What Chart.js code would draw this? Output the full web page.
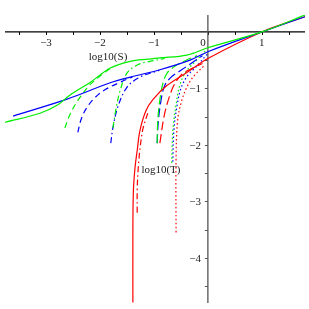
<!DOCTYPE html>
<html><head><meta charset="utf-8">
<script src="https://cdn.jsdelivr.net/npm/chart.js@4/dist/chart.umd.min.js"></script>
<style>html,body{margin:0;padding:0;background:#fff;}#wrap{width:309px;height:309px;}</style>
</head><body><div id="wrap"><canvas id="c" width="309" height="309"></canvas></div>
<script>
// ---- data (log10 S, log10 T) ----
const greenSolidX = [-3.76,-3.11,-2.78,-2.56,-2.19,-1.81,-1.44,-1.1,-0.89,-0.39,0,1,1.8];
const greenSolidY = [-1.6,-1.44,-1.29,-1.12,-0.9,-0.64,-0.52,-0.48,-0.46,-0.41,-0.28,0,0.3];
const blueSolidX = [-3.61,-2.61,-1.81,-1.44,-0.89,-0.33,0,1,1.8];
const blueSolidY = [-1.49,-1.19,-0.9,-0.8,-0.67,-0.5,-0.35,0,0.27];
const redSolidX = [-1.39,-1.39,-1.38,-1.35,-1.31,-1.26,-1.15,-1.02,-0.76,-0.39,0,1,1.8];
const redSolidY = [-4.79,-3.5,-2.8,-2.4,-2.1,-1.75,-1.4,-1.2,-0.95,-0.72,-0.47,0,0.27];

const greenDashX = [-2.65,-2.55,-2.4,-2.2,-2.0,-1.8];
const greenDashY = [-1.7,-1.45,-1.2,-0.95,-0.78,-0.64];
const blueDashX = [-2.41,-2.35,-2.25,-2.1,-1.9,-1.6,-1.4];
const blueDashY = [-1.78,-1.55,-1.35,-1.17,-1.02,-0.88,-0.8];

const greenDashDotX = [-1.76,-1.7,-1.63,-1.5,-1.3,-1.07,-0.8];
const greenDashDotY = [-1.7,-1.35,-1.05,-0.73,-0.58,-0.52,-0.47];
const blueDashDotX = [-1.8,-1.76,-1.67,-1.5,-1.26,-0.9];
const blueDashDotY = [-1.97,-1.7,-1.33,-0.98,-0.8,-0.68];
const redDashDotX = [-1.31,-1.31,-1.29,-1.25,-1.2,-1.1];
const redDashDotY = [-3.2,-2.8,-2.4,-2.0,-1.7,-1.4];

const greenLongX = [-0.94,-0.93,-0.89,-0.83,-0.75,-0.6,-0.4,-0.2];
const greenLongY = [-1.97,-1.6,-1.2,-0.9,-0.72,-0.6,-0.5,-0.42];
const blueLongX = [-0.94,-0.92,-0.87,-0.8,-0.68,-0.5,-0.3,-0.1];
const blueLongY = [-1.97,-1.6,-1.22,-0.95,-0.8,-0.68,-0.55,-0.42];
const redLongX = [-0.89,-0.8,-0.67,-0.57,-0.46,-0.28,-0.1];
const redLongY = [-1.97,-1.44,-1.03,-0.85,-0.73,-0.64,-0.56];

const greenDotX = [-0.67,-0.65,-0.59,-0.52,-0.41,-0.24,-0.05];
const greenDotY = [-2.32,-1.74,-1.29,-0.94,-0.71,-0.53,-0.34];
const blueDotX = [-0.65,-0.63,-0.57,-0.5,-0.38,-0.2,0];
const blueDotY = [-2.3,-1.74,-1.3,-1.0,-0.78,-0.6,-0.38];
const redDotX = [-0.59,-0.59,-0.56,-0.48,-0.37,-0.24,-0.06];
const redDotY = [-3.55,-2.27,-1.56,-1.2,-0.94,-0.76,-0.59];

const xTickLabels = [-3,-2,-1,0,1];
const yTickLabels = [-1,-2,-3,-4];
const xLabel = 'log10(S)';
const yLabel = 'log10(T)';

const GREEN = '#00ee00', BLUE = '#0000ff', RED = '#ff0000';
const DASH = [6,4], DASHDOT = [6,3,1.5,3], LONG = [9,4], DOT = [1.5,2.5];

function pts(xs, ys){ return xs.map((x,i)=>({x:x,y:ys[i]})); }
function ds(xs, ys, color, dash){
  return {data: pts(xs,ys), borderColor: color, borderWidth: 1.2, borderDash: dash||[],
    showLine: true, pointRadius: 0, tension: 0.35, fill: false};
}

const axesPlugin = {
  id: 'axesAtZero',
  beforeDatasetsDraw(chart){
    const ctx = chart.ctx, xs = chart.scales.x, ys = chart.scales.y;
    const x0 = xs.getPixelForValue(0), y0 = ys.getPixelForValue(0);
    ctx.save();
    ctx.lineWidth = 1.3;
    // x axis
    ctx.strokeStyle = '#000';
    ctx.beginPath(); ctx.moveTo(xs.left, y0); ctx.lineTo(xs.right, y0); ctx.stroke();
    ctx.lineWidth = 1;
    for (let v = -3.5; v <= 1.5; v += 0.5){
      const p = Math.round(xs.getPixelForValue(v)) + 0.5;
      ctx.beginPath(); ctx.moveTo(p, y0); ctx.lineTo(p, y0 + 3); ctx.stroke();
    }
    // y axis
    ctx.strokeStyle = '#555';
    ctx.lineWidth = 1.3;
    ctx.beginPath(); ctx.moveTo(x0, ys.top); ctx.lineTo(x0, ys.bottom); ctx.stroke();
    ctx.lineWidth = 1;
    for (let v = -4.5; v <= 0; v += 0.5){
      if (v === 0) continue;
      const p = Math.round(ys.getPixelForValue(v)) + 0.5;
      ctx.beginPath(); ctx.moveTo(x0 - 3, p); ctx.lineTo(x0, p); ctx.stroke();
    }
    ctx.fillStyle = '#222';
    ctx.font = '11px "Liberation Serif"';
    ctx.textBaseline = 'middle';
    ctx.textAlign = 'center';
    xTickLabels.forEach(v => {
      let p = xs.getPixelForValue(v);
      if (v === 0) p -= 5;
      ctx.fillText(v < 0 ? '\u2212' + Math.abs(v) : String(v), p, y0 + 11);
    });
    ctx.textAlign = 'right';
    yTickLabels.forEach(v => {
      ctx.fillText('\u2212' + Math.abs(v), x0 - 7, ys.getPixelForValue(v) + 1);
    });
    ctx.textAlign = 'center';
    ctx.fillText(xLabel, xs.getPixelForValue(-1.85), ys.getPixelForValue(-0.44));
    ctx.fillText(yLabel, xs.getPixelForValue(-0.87), ys.getPixelForValue(-2.45));
    ctx.restore();
  }
};

new Chart(document.getElementById('c'), {
  type: 'scatter',
  data: { datasets: [
    ds(greenSolidX, greenSolidY, GREEN),
    ds(blueSolidX, blueSolidY, BLUE),
    ds(redSolidX, redSolidY, RED),
    ds(greenDashX, greenDashY, GREEN, DASH),
    ds(blueDashX, blueDashY, BLUE, DASH),
    ds(greenDashDotX, greenDashDotY, GREEN, DASHDOT),
    ds(blueDashDotX, blueDashDotY, BLUE, DASHDOT),
    ds(redDashDotX, redDashDotY, RED, DASHDOT),
    ds(greenLongX, greenLongY, GREEN, LONG),
    ds(blueLongX, blueLongY, BLUE, LONG),
    ds(redLongX, redLongY, RED, LONG),
    ds(greenDotX, greenDotY, GREEN, DOT),
    ds(blueDotX, blueDotY, BLUE, DOT),
    ds(redDotX, redDotY, RED, DOT)
  ]},
  options: {
    responsive: false, animation: false,
    layout: { padding: { left: 5, right: 4, top: 15, bottom: 6 } },
    plugins: { legend: { display: false }, tooltip: { enabled: false } },
    scales: {
      x: { type: 'linear', min: -3.76, max: 1.8, display: false },
      y: { type: 'linear', min: -4.8, max: 0.3, display: false }
    }
  },
  plugins: [axesPlugin]
});
</script>
</body></html>
